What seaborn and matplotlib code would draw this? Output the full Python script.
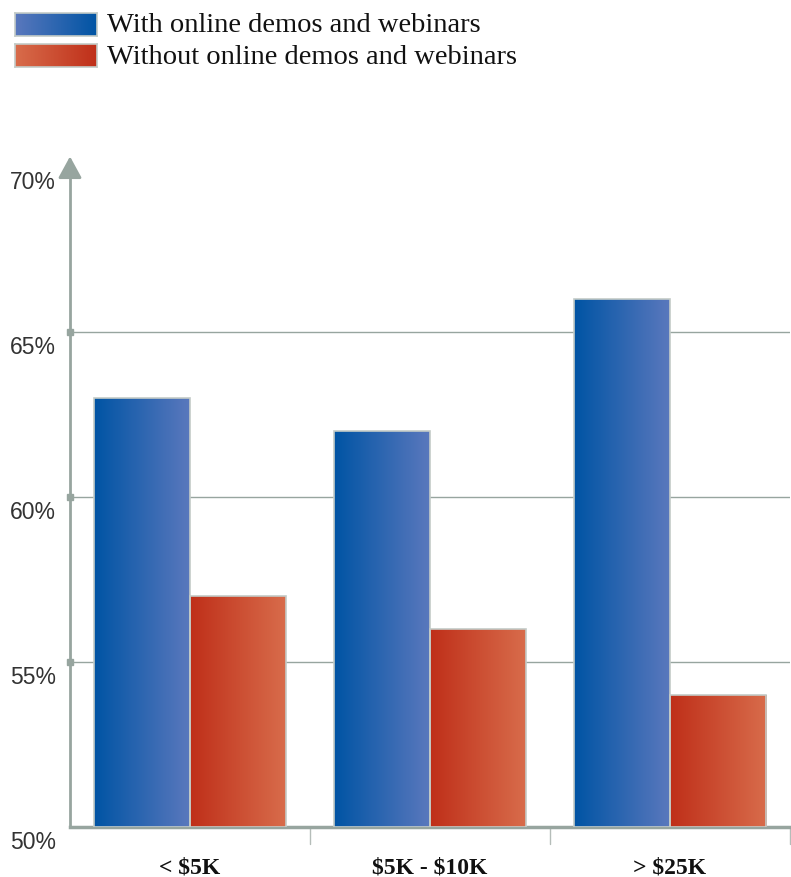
import numpy as np
import pandas as pd
import matplotlib
matplotlib.use("Agg")
import matplotlib.pyplot as plt
import matplotlib.transforms as mtransforms
import seaborn as sns
from matplotlib.colors import LinearSegmentedColormap

categories = ["< $5K", "$5K - $10K", "> $25K"]
series_names = ["With online demos and webinars", "Without online demos and webinars"]
with_vals = [63, 62, 66]
without_vals = [57, 56, 54]
yticks = [50, 55, 60, 65, 70]
ytick_labels = ["50%", "55%", "60%", "65%", "70%"]

df = pd.DataFrame({
    "cat": categories * 2,
    "series": [series_names[0]] * 3 + [series_names[1]] * 3,
    "val": with_vals + without_vals,
})

sns.set_theme(style="white")
plt.rcParams["font.family"] = ["Liberation Sans", "DejaVu Sans"]
plt.rcParams["text.parse_math"] = False

W, H = 791, 878
fig = plt.figure(figsize=(W / 100, H / 100), dpi=100)
ax = fig.add_axes([70 / W, (H - 828) / H, 720 / W, (828 - 168) / H])

grey = "#97a59f"
blue_cmap = LinearSegmentedColormap.from_list("b", ["#0054a4", "#5a78bd"])
red_cmap = LinearSegmentedColormap.from_list("r", ["#bf2f19", "#d86c4b"])

sns.barplot(data=df, x="cat", y="val", hue="series", order=categories,
            hue_order=series_names, width=0.8, ax=ax, legend=False,
            palette=["#2a5fae", "#c94a2e"], zorder=3)

ax.set_ylim(50, 70)
ax.set_xlim(-0.5, 2.5)

grad = np.linspace(0, 1, 256).reshape(1, -1)
for i, p in enumerate(ax.patches):
    x0, y0 = p.get_x(), p.get_y()
    w, h = p.get_width(), p.get_height()
    if h <= 0:
        continue
    cmap = blue_cmap if i < 3 else red_cmap
    ax.imshow(grad, cmap=cmap, aspect="auto", extent=[x0, x0 + w, 50, y0 + h],
              zorder=3, interpolation="bilinear")
    p.set_facecolor("none")
    p.set_edgecolor("#c3cbc7")
    p.set_linewidth(1.2)
    p.set_zorder(4)
    p.set_y(50)
    p.set_height(y0 + h - 50)

ax.set_xlim(-0.5, 2.5)
ax.set_ylim(50, 70)

# gridlines
for yv in [55, 60, 65]:
    ax.axhline(yv, color=grey, lw=1, zorder=1)
    ax.plot([-0.5], [yv], marker="s", ms=4, color=grey, clip_on=False, zorder=5)

for s in ["top", "right"]:
    ax.spines[s].set_visible(False)
ax.spines["left"].set_color(grey)
ax.spines["left"].set_linewidth(2)
ax.spines["bottom"].set_color(grey)
ax.spines["bottom"].set_linewidth(2.5)
ax.spines["left"].set_bounds(50, 70.0)

# arrow head on y axis
ax.annotate("", xy=(-0.5, 70.32), xytext=(-0.5, 69.9),
            arrowprops=dict(arrowstyle="-|>,head_width=0.6,head_length=1.1",
                            color=grey, lw=2, shrinkA=0, shrinkB=0),
            annotation_clip=False)

# group separators
for xv in [0.5, 1.5, 2.5]:
    ax.plot([xv, xv], [50, 49.5], color="#b5bdb9", lw=1, clip_on=False)

ax.set_yticks(yticks)
ax.set_yticklabels(ytick_labels, fontsize=16.5, color="#333333")
ax.tick_params(axis="y", length=0, pad=10)
shift = mtransforms.ScaledTranslation(0, -12 / 100, fig.dpi_scale_trans)
for lab in ax.get_yticklabels():
    lab.set_transform(lab.get_transform() + shift)
ax.set_xticks(range(len(categories)))
ax.set_xticklabels(categories, fontsize=17, fontweight="bold",
                   family=["Liberation Serif"], color="#111111")
ax.tick_params(axis="x", length=0, pad=21)
ax.set_xlabel("")
ax.set_ylabel("")

# legend with gradient swatches
legend_cmaps = [blue_cmap.reversed(), red_cmap.reversed()]
tops = [14, 45]
for name, cm, t in zip(series_names, legend_cmaps, tops):
    sax = fig.add_axes([15 / W, (H - t - 23) / H, 82 / W, 23 / H])
    sax.imshow(grad, cmap=cm, aspect="auto", interpolation="bilinear")
    sax.set_xticks([])
    sax.set_yticks([])
    for s in sax.spines.values():
        s.set_color("#c3cbc7")
        s.set_linewidth(1.2)
    fig.text(107 / W, (H - t - 12) / H, name, fontsize=20.5,
             family=["Liberation Serif"], color="#111111", va="center", ha="left")

fig.savefig("out.png", dpi=100)
